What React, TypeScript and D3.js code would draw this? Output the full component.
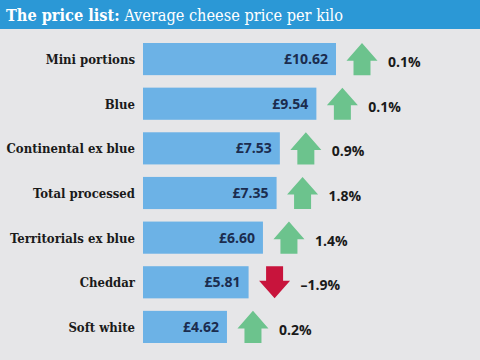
import * as d3 from 'd3'

const categories = ['Mini portions', 'Blue', 'Continental ex blue', 'Total processed', 'Territorials ex blue', 'Cheddar', 'Soft white']
const prices = [10.62, 9.54, 7.53, 7.35, 6.6, 5.81, 4.62]
const changes = [0.1, 0.1, 0.9, 1.8, 1.4, -1.9, 0.2]

const W = 480
const H = 360

export default function App() {
  const x = d3.scaleLinear().domain([0, 10.62]).range([143, 336])
  const y = d3.scaleBand<string>().domain(categories).range([43, 343]).paddingInner(0.28)
  const bw = y.bandwidth()

  // arrow marker, pointing up for rises and down for falls
  const arrowPath = (cx: number, top: number, h: number, up: boolean) => {
    const hw = 15.5
    const sw = 8.5
    const head = h * 0.55
    if (up) {
      return `M${cx},${top} L${cx + hw},${top + head} L${cx + sw},${top + head} L${cx + sw},${top + h} L${cx - sw},${top + h} L${cx - sw},${top + head} L${cx - hw},${top + head} Z`
    }
    const b = top + h
    return `M${cx},${b} L${cx + hw},${b - head} L${cx + sw},${b - head} L${cx + sw},${top} L${cx - sw},${top} L${cx - sw},${b - head} L${cx - hw},${b - head} Z`
  }

  return (
    <div style={{ position: 'absolute', left: 0, top: 0 }}>
      <svg width={W} height={H} style={{ display: 'block' }}>
        <rect width={W} height={H} fill="#e6e6e8" />
        <rect width={W} height={29} fill="#2b98d6" />
        <text x={6} y={21} fill="#fff" fontFamily="'DejaVu Serif Condensed', 'DejaVu Serif', serif" fontSize={16.5} textLength={337} lengthAdjust="spacingAndGlyphs">
          <tspan fontWeight="bold">The price list:</tspan>
          <tspan> Average cheese price per kilo</tspan>
        </text>
        {categories.map((c, i) => {
          const y0 = y(c)!
          const xe = x(prices[i])
          const cx = xe + 26
          const up = changes[i] >= 0
          return (
            <g key={c}>
              <text x={135} y={y0 + bw / 2 + 5} textAnchor="end" fill="#1a1a1a"
                fontFamily="'DejaVu Serif Condensed', 'DejaVu Serif', serif" fontWeight="bold" fontSize={13}>
                {c}
              </text>
              <rect x={x(0)} y={y0} width={xe - x(0)} height={bw} fill="#6cb2e6" />
              <text x={xe - 8} y={y0 + bw / 2 + 5} textAnchor="end" fill="#1b2c4e"
                fontFamily="'Open Sans', sans-serif" fontWeight="bold" fontSize={14}>
                {'£' + prices[i].toFixed(2)}
              </text>
              <path d={arrowPath(cx, y0, bw, up)} fill={up ? '#6cc38d' : '#c8143c'} />
              <text x={cx + 26} y={y0 + bw / 2 + 8} fill="#1a1a1a"
                fontFamily="'Open Sans', sans-serif" fontWeight="bold" fontSize={14}>
                {(changes[i] < 0 ? '–' : '') + Math.abs(changes[i]).toFixed(1) + '%'}
              </text>
            </g>
          )
        })}
      </svg>
    </div>
  )
}
